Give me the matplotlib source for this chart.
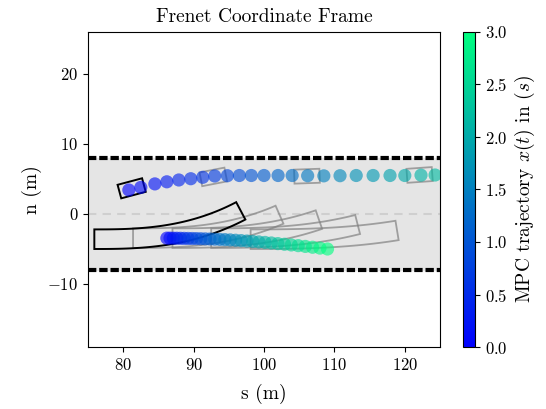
import numpy as np
import matplotlib
matplotlib.use("Agg")
import matplotlib.pyplot as plt
from matplotlib.patches import Polygon
from matplotlib.colors import Normalize

plt.rcParams['font.family'] = 'serif'
plt.rcParams['font.serif'] = ['cmr10', 'DejaVu Serif']
plt.rcParams['mathtext.fontset'] = 'cm'
plt.rcParams['axes.formatter.use_mathtext'] = True
plt.rcParams['axes.unicode_minus'] = True

# ---------------- data ----------------
# MPC predicted ego trajectory (time 0..3 s, 0.1 s step)
ego_t = [0.0, 0.1, 0.2, 0.3, 0.4, 0.5, 0.6, 0.7, 0.8, 0.9, 1.0, 1.1, 1.2, 1.3, 1.4, 1.5,
         1.6, 1.7, 1.8, 1.9, 2.0, 2.1, 2.2, 2.3, 2.4, 2.5, 2.6, 2.7, 2.8, 2.9, 3.0]
ego_s = [86.2, 86.65, 87.12, 87.61, 88.12, 88.66, 89.22, 89.80, 90.40, 91.02, 91.66,
         92.32, 93.01, 93.72, 94.45, 95.20, 95.97, 96.76, 97.57, 98.41, 99.27, 100.15,
         101.05, 101.97, 102.91, 103.87, 104.86, 105.87, 106.90, 107.95, 109.02]
ego_n = [-3.45, -3.45, -3.46, -3.46, -3.47, -3.48, -3.49, -3.50, -3.51, -3.53, -3.55,
         -3.57, -3.60, -3.63, -3.66, -3.70, -3.75, -3.80, -3.86, -3.92, -3.99, -4.06,
         -4.14, -4.23, -4.32, -4.42, -4.52, -4.63, -4.75, -4.87, -5.00]

# Predicted obstacle trajectory
obs_t = ego_t
obs_s = [80.8, 82.5, 84.5, 86.2, 87.9, 89.6, 91.3, 93.0, 94.8, 96.5, 98.2, 100.0,
         102.0, 104.0, 106.2, 108.5, 110.8, 113.1, 115.5, 117.9, 120.0, 122.3, 124.3,
         126.5, 128.8, 131.1, 133.4, 135.7, 138.0, 140.3, 142.6]
obs_n = [3.43, 3.80, 4.30, 4.60, 4.86, 5.04, 5.24, 5.43, 5.47, 5.50, 5.50, 5.50,
         5.50, 5.50, 5.47, 5.45, 5.47, 5.50, 5.50, 5.50, 5.50, 5.55, 5.57,
         5.57, 5.57, 5.57, 5.57, 5.57, 5.57, 5.57, 5.57]

# Obstacle footprints (first = current, black)
obs_box_s = [81.2, 92.8, 106.1, 122.1]
obs_box_n = [3.67, 5.30, 5.40, 5.58]
obs_box_heading = [15.0, 11.0, 2.0, 4.0]
obs_len, obs_wid = 3.6, 2.0

# Ego footprints in Frenet frame (first = current, black)
fp_s_left = [75.9, 81.4, 87.0, 92.5, 98.1]
fp_n_left = [-3.6, -3.45, -3.45, -3.45, -3.6]
fp_rise = [4.05, 3.35, 2.65, 1.95, 1.25]
fp_power = 2.7
fp_len, fp_wid = 20.8, 2.8

road_half_width = 8.0
xlim = (75, 125)
ylim = (-19, 26)
cbar_ticks = [0.0, 0.5, 1.0, 1.5, 2.0, 2.5, 3.0]

# ---------------- plot ----------------
fig = plt.figure(figsize=(5.46, 4.09), dpi=100)
ax = fig.add_axes([88/546, 62/409, 352/546, 315/409])
cax = fig.add_axes([463/546, 62/409, 12/546, 315/409])

ax.axhspan(-road_half_width, road_half_width, color='#e5e5e5', zorder=0)
for yb in (-road_half_width, road_half_width):
    ax.axhline(yb, color='black', lw=3.0, dashes=(2.0, 0.7), zorder=2)
ax.axhline(0, color='#cfcfcf', lw=1.5, dashes=(4, 3), zorder=1)


def band(s0, n0, rise, L, w, p):
    s = np.linspace(s0, s0 + L, 80)
    u = (s - s0) / L
    n = n0 + rise * u ** p
    slope = rise * p * u ** (p - 1) / L
    norm = np.sqrt(1 + slope ** 2)
    nx, ny = -slope / norm, 1 / norm
    top = np.column_stack([s + nx * w / 2, n + ny * w / 2])
    bot = np.column_stack([s - nx * w / 2, n - ny * w / 2])
    return np.vstack([top, bot[::-1]])


for i, (s0, n0, r) in enumerate(zip(fp_s_left, fp_n_left, fp_rise)):
    pts = band(s0, n0, r, fp_len, fp_wid, fp_power)
    if i == 0:
        ax.add_patch(Polygon(pts, closed=True, fill=False, ec='black', lw=1.4, zorder=4))
    else:
        ax.add_patch(Polygon(pts, closed=True, fill=False, ec='gray', lw=1.3, alpha=0.7, zorder=3))


def rect(cs, cn, hdg, L, W):
    a = np.deg2rad(hdg)
    u = np.array([np.cos(a), np.sin(a)])
    v = np.array([-np.sin(a), np.cos(a)])
    c = np.array([cs, cn])
    return np.array([c - u*L/2 - v*W/2, c + u*L/2 - v*W/2,
                     c + u*L/2 + v*W/2, c - u*L/2 + v*W/2])


for i, (cs, cn, h) in enumerate(zip(obs_box_s, obs_box_n, obs_box_heading)):
    pts = rect(cs, cn, h, obs_len, obs_wid)
    if i == 0:
        ax.add_patch(Polygon(pts, closed=True, fill=False, ec='black', lw=1.4, zorder=4))
    else:
        ax.add_patch(Polygon(pts, closed=True, fill=False, ec='gray', lw=1.3, alpha=0.7, zorder=3))

norm = Normalize(0, 3)
sc = ax.scatter(ego_s, ego_n, c=ego_t, cmap='winter', norm=norm, s=90, alpha=0.62,
                edgecolors='none', zorder=5)
ax.scatter(obs_s, obs_n, c=obs_t, cmap='winter', norm=norm, s=90, alpha=0.62,
           edgecolors='none', zorder=5)

ax.set_xlim(*xlim)
ax.set_ylim(*ylim)
ax.set_xticks([80, 90, 100, 110, 120])
ax.set_yticks([-10, 0, 10, 20])
ax.tick_params(labelsize=12)
ax.set_xlabel('s (m)', fontsize=14, labelpad=8)
ax.set_ylabel('n (m)', fontsize=14)
ax.set_title('Frenet Coordinate Frame', fontsize=14, pad=7)

cb = fig.colorbar(sc, cax=cax)
cb.solids.set_alpha(1)
cb.set_ticks(cbar_ticks)
cb.ax.tick_params(labelsize=12)
cb.set_label(r'MPC trajectory $x(t)$ in $(s)$', fontsize=14)

fig.savefig('out.png', dpi=100)
